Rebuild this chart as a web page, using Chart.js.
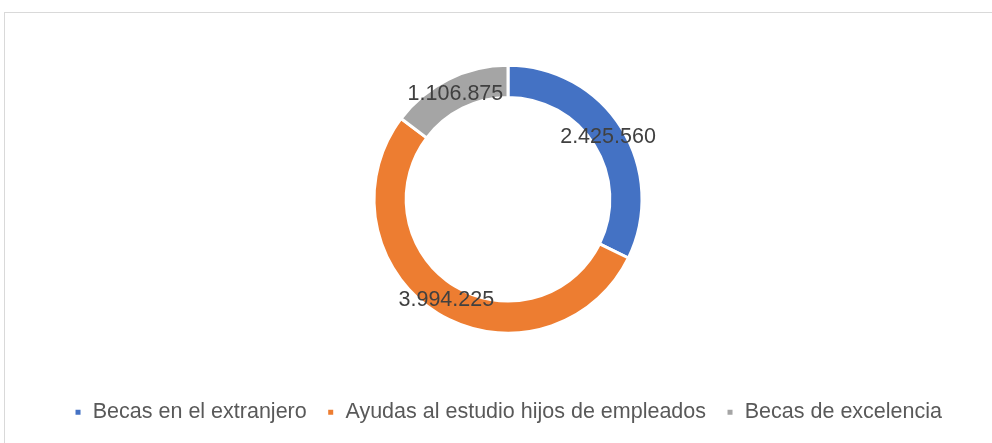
<!DOCTYPE html>
<html>
<head>
<meta charset="utf-8">
<script src="https://cdn.jsdelivr.net/npm/chart.js@4/dist/chart.umd.min.js"></script>
<style>
    html, body { margin: 0; padding: 0; background: #fff; overflow: hidden; }
    #frame { position: absolute; left: 4px; top: 12px; width: 1000px; height: 440px;
             border-left: 1px solid #d9d9d9; border-top: 1px solid #d9d9d9; }
    #wrap { position: absolute; left: 0; top: 0; width: 992px; height: 443px; }
</style>
</head>
<body>
<div id="frame"></div>
<div id="wrap"><canvas id="myChart"></canvas></div>
<script>
var labels = ["Becas en el extranjero", "Ayudas al estudio hijos de empleados", "Becas de excelencia"];
var values = [2425560, 3994225, 1106875];
var colors = ["#4472C4", "#ED7D31", "#A5A5A5"];

function fmt(n)
{
    return String(n).replace(/\B(?=(\d{3})+(?!\d))/g, ".");
}

// labels drawn at the middle of each ring segment
var sliceLabels = {
    id: "sliceLabels",
    afterDatasetsDraw: function (chart) {
        var c = chart.ctx;
        var meta = chart.getDatasetMeta(0);
        c.save();
        c.font = "21.5px 'Liberation Sans', sans-serif";
        c.fillStyle = "#404040";
        c.textAlign = "center";
        c.textBaseline = "middle";
        for (var i = 0; i < meta.data.length; i++) {
            var p = meta.data[i].tooltipPosition();
            c.fillText(fmt(values[i]), p.x, p.y);
        }
        c.restore();
    }
};

var ctx = document.getElementById("myChart").getContext("2d");
var myChart = new Chart(ctx, {
    type: "doughnut",
    data: {
        labels: labels,
        datasets: [{
            data: values,
            backgroundColor: colors,
            borderColor: "#ffffff",
            borderWidth: 3,
            radius: 134,
            cutout: "76%"
        }]
    },
    options: {
        responsive: true,
        maintainAspectRatio: false,
        animation: false,
        layout: { padding: { top: 17, left: 24, right: 0, bottom: 10 } },
        plugins: {
            tooltip: { enabled: false },
            legend: {
                position: "bottom",
                labels: {
                    boxWidth: 8,
                    boxHeight: 8,
                    padding: 20,
                    color: "#595959",
                    font: { family: "'Liberation Sans', sans-serif", size: 21.5 }
                }
            }
        }
    },
    plugins: [sliceLabels]
});
</script>
</body>
</html>
